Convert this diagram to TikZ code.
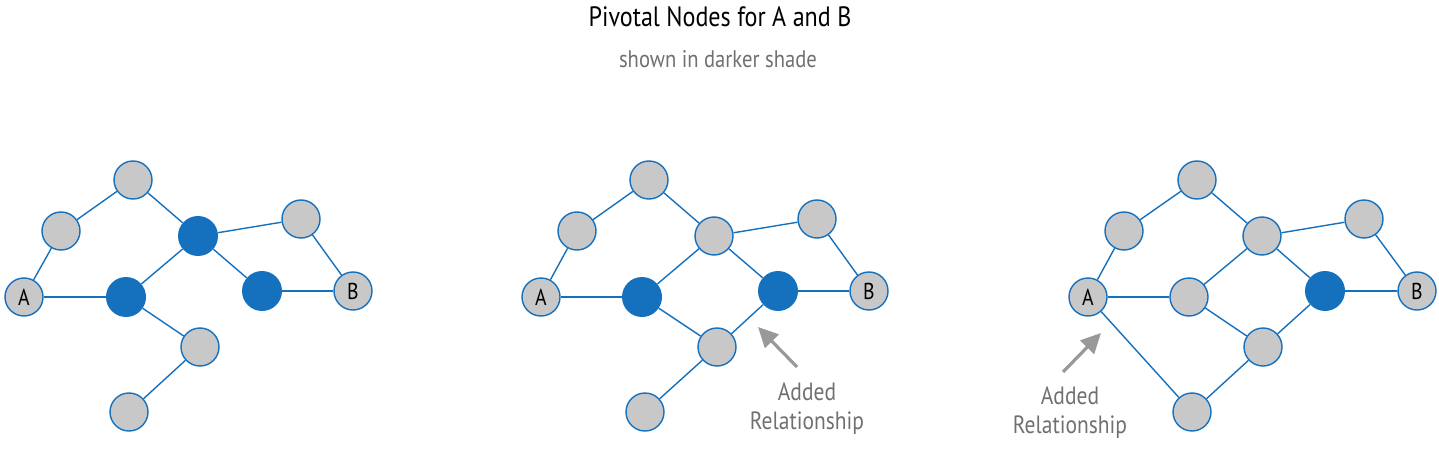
\documentclass[tikz,border=0pt]{standalone}
\usepackage{fontspec}
\setmainfont[FakeStretch=0.86]{PT Sans}
\usetikzlibrary{arrows.meta}
\definecolor{linkblue}{HTML}{1570BE}
\definecolor{nodegray}{HTML}{C8C8C8}
\definecolor{notegray}{HTML}{707070}
\definecolor{arrowgray}{HTML}{999999}

\begin{document}
\begin{tikzpicture}[x=1pt, y=-1pt, every node/.style={align=center},
  plain/.style={draw=linkblue, fill=nodegray, circle, minimum size=38pt, inner sep=0pt, line width=1.4pt, font=\fontsize{23}{23}\selectfont},
  pivot/.style={fill=linkblue, circle, minimum size=40pt, inner sep=0pt},
  link/.style={linkblue, line width=1.4pt},
  note/.style={text=notegray, font=\fontsize{25}{29}\selectfont},
  pointer/.style={-{Triangle[length=20pt, width=19pt]}, line width=3.2pt, arrowgray}]

\useasboundingbox (0,0) rectangle (1439,449);

% Titles
\node (title) [anchor=base, font=\fontsize{28}{30}\selectfont] at (720,27) {Pivotal Nodes for A and B};
\node (subtitle) [anchor=base, text=notegray, font=\fontsize{24}{26}\selectfont] at (718,68) {shown in darker shade};

% Panel 1
\node (top1) [plain] at (133,180) {};
\node (ul1) [plain] at (61,231) {};
\node (A1) [plain] at (24,297) {A};
\node (hub1) [pivot] at (198,236) {};
\node (mid1) [pivot] at (126,297) {};
\node (near1) [pivot] at (262,291) {};
\node (rt1) [plain] at (301,219) {};
\node (B1) [plain] at (353,291) {B};
\node (low1) [plain] at (200,347) {};
\node (bot1) [plain] at (129,412) {};

% Panel 2
\node (top2) [plain] at (649,180) {};
\node (ul2) [plain] at (577,231) {};
\node (A2) [plain] at (541,297) {A};
\node (hub2) [plain] at (714,236) {};
\node (mid2) [pivot] at (642,297) {};
\node (near2) [pivot] at (778,291) {};
\node (rt2) [plain] at (817,219) {};
\node (B2) [plain] at (869,291) {B};
\node (low2) [plain] at (717,347) {};
\node (bot2) [plain] at (645,412) {};

% Panel 3
\node (top3) [plain] at (1197,180) {};
\node (ul3) [plain] at (1124,231) {};
\node (A3) [plain] at (1088,297) {A};
\node (hub3) [plain] at (1262,236) {};
\node (mid3) [plain] at (1189,297) {};
\node (near3) [pivot] at (1325,291) {};
\node (rt3) [plain] at (1364,219) {};
\node (B3) [plain] at (1417,291) {B};
\node (low3) [plain] at (1263,347) {};
\node (bot3) [plain] at (1192,412) {};

% Relationships shared by all panels
\foreach \i in {1,2,3} {
  \draw[link] (top\i) -- (ul\i);
  \draw[link] (ul\i) -- (A\i);
  \draw[link] (top\i) -- (hub\i);
  \draw[link] (A\i) -- (mid\i);
  \draw[link] (mid\i) -- (hub\i);
  \draw[link] (hub\i) -- (rt\i);
  \draw[link] (hub\i) -- (near\i);
  \draw[link] (rt\i) -- (B\i);
  \draw[link] (near\i) -- (B\i);
  \draw[link] (mid\i) -- (low\i);
  \draw[link] (low\i) -- (bot\i);
}

% Added relationships
\draw[link] (low2) -- (near2);
\draw[link] (low3) -- (near3);
\draw[link] (A3) -- (bot3);

% Callouts
\node (note2) [note] at (807,409) {Added\\Relationship};
\coordinate (tail2) at (797,367);
\coordinate (tip2) at (758,327);
\draw[pointer] (tail2) -- (tip2);

\node (note3) [note] at (1070,413) {Added\\Relationship};
\coordinate (tail3) at (1063,372);
\coordinate (tip3) at (1101,333);
\draw[pointer] (tail3) -- (tip3);

\end{tikzpicture}
\end{document}
